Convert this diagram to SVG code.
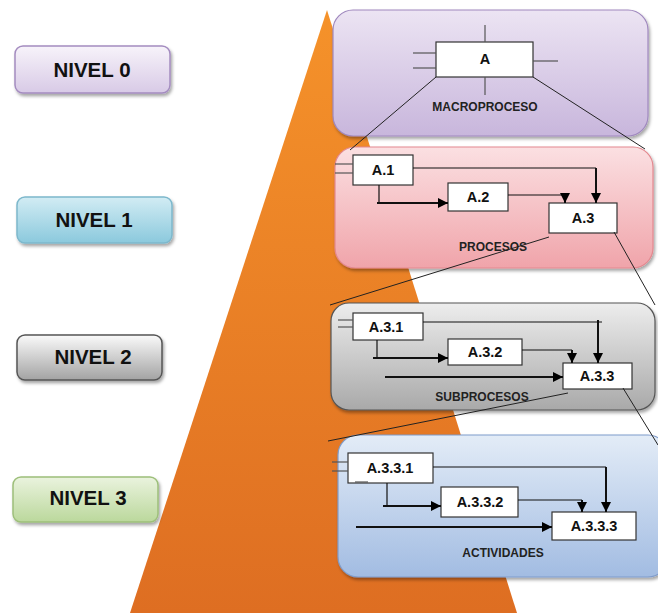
<svg xmlns="http://www.w3.org/2000/svg" width="658" height="613" viewBox="0 0 658 613">
  <defs>
    <linearGradient id="gOrange" x1="0" y1="0" x2="0" y2="1">
      <stop offset="0" stop-color="#F5922A"/>
      <stop offset="1" stop-color="#DE6E22"/>
    </linearGradient>
    <linearGradient id="gPurple" x1="0" y1="0" x2="0" y2="1">
      <stop offset="0" stop-color="#ECE4F3"/>
      <stop offset="1" stop-color="#C8B6DC"/>
    </linearGradient>
    <linearGradient id="gPink" x1="0" y1="0" x2="0" y2="1">
      <stop offset="0" stop-color="#FBE0E2"/>
      <stop offset="1" stop-color="#F0A4AA"/>
    </linearGradient>
    <linearGradient id="gGray" x1="0" y1="0" x2="0" y2="1">
      <stop offset="0" stop-color="#EDEDED"/>
      <stop offset="1" stop-color="#A9A9A9"/>
    </linearGradient>
    <linearGradient id="gBlue" x1="0" y1="0" x2="0" y2="1">
      <stop offset="0" stop-color="#E3ECF7"/>
      <stop offset="1" stop-color="#A2BCE2"/>
    </linearGradient>
    <linearGradient id="nPurple" x1="0" y1="0" x2="0" y2="1">
      <stop offset="0" stop-color="#F7F3FA"/>
      <stop offset="1" stop-color="#D8CAE6"/>
    </linearGradient>
    <linearGradient id="nBlue" x1="0" y1="0" x2="0" y2="1">
      <stop offset="0" stop-color="#D2ECF4"/>
      <stop offset="1" stop-color="#8BC9DD"/>
    </linearGradient>
    <linearGradient id="nGray" x1="0" y1="0" x2="0" y2="1">
      <stop offset="0" stop-color="#FAFAFA"/>
      <stop offset="1" stop-color="#A3A3A3"/>
    </linearGradient>
    <linearGradient id="nGreen" x1="0" y1="0" x2="0" y2="1">
      <stop offset="0" stop-color="#EAF3DE"/>
      <stop offset="1" stop-color="#BBD89C"/>
    </linearGradient>
    <filter id="shadow" x="-10%" y="-10%" width="125%" height="135%">
      <feDropShadow dx="1.5" dy="2.5" stdDeviation="1.5" flood-color="#000" flood-opacity="0.35"/>
    </filter>
    <marker id="arrow" markerUnits="userSpaceOnUse" markerWidth="10" markerHeight="10" viewBox="0 0 10 10" refX="10" refY="5" orient="auto">
      <path d="M0,0 L10,5 L0,10 z" fill="#000"/>
    </marker>
  </defs>
  <style>
    .nivel text { font-family: "Liberation Sans", Arial, sans-serif; font-weight: bold; font-size: 20.5px; fill: #111; text-anchor: middle; }
    .panel-label { font-family: "Liberation Sans", Arial, sans-serif; font-weight: bold; font-size: 12px; fill: #222; text-anchor: middle; }
    .box rect { fill: #fff; stroke: #333; stroke-width: 1.2; }
    .box text { font-family: "Liberation Sans", Arial, sans-serif; font-weight: bold; font-size: 14.5px; fill: #111; text-anchor: middle; }
    .thin { stroke: #222; stroke-width: 1; fill: none; }
    .stub { stroke: #555; stroke-width: 1.2; fill: none; }
    .flow { stroke: #111; stroke-width: 1.2; fill: none; }
    .flowb { stroke: #111; stroke-width: 2; fill: none; }
  </style>

  <!-- hierarchy pyramid -->
  <polygon id="pyramid" points="327,10 517,613 130,613" fill="url(#gOrange)"/>

  <!-- level tags -->
  <g id="nivel0" class="nivel">
    <rect x="15" y="46" width="155" height="47" rx="8" fill="url(#nPurple)" stroke="#A48CC0" stroke-width="1.5" filter="url(#shadow)"/>
    <text x="92" y="77">NIVEL 0</text>
  </g>
  <g id="nivel1" class="nivel">
    <rect x="17" y="197" width="155" height="46" rx="8" fill="url(#nBlue)" stroke="#7DB8CC" stroke-width="1.5" filter="url(#shadow)"/>
    <text x="94" y="227">NIVEL 1</text>
  </g>
  <g id="nivel2" class="nivel">
    <rect x="17" y="335" width="145" height="45" rx="8" fill="url(#nGray)" stroke="#555" stroke-width="1.5" filter="url(#shadow)"/>
    <text x="93" y="364">NIVEL 2</text>
  </g>
  <g id="nivel3" class="nivel">
    <rect x="13" y="477" width="145" height="45" rx="8" fill="url(#nGreen)" stroke="#9DBF7A" stroke-width="1.5" filter="url(#shadow)"/>
    <text x="88" y="505">NIVEL 3</text>
  </g>

  <!-- level panels -->
  <g id="panel-macroproceso">
    <rect x="333" y="10" width="315" height="126" rx="20" fill="url(#gPurple)" stroke="#9F88BE" stroke-width="1.2" filter="url(#shadow)"/>
    <text class="panel-label" x="485" y="111">MACROPROCESO</text>
  </g>
  <g id="panel-procesos">
    <rect x="335" y="147" width="318" height="121" rx="20" fill="url(#gPink)" stroke="#E3888F" stroke-width="1.2" filter="url(#shadow)"/>
    <text class="panel-label" x="493" y="251">PROCESOS</text>
  </g>
  <g id="panel-subprocesos">
    <rect x="331" y="303" width="324" height="107" rx="18" fill="url(#gGray)" stroke="#555" stroke-width="1.2" filter="url(#shadow)"/>
    <text class="panel-label" x="482" y="401">SUBPROCESOS</text>
  </g>
  <g id="panel-actividades">
    <rect x="338" y="435" width="330" height="142" rx="20" fill="url(#gBlue)" stroke="#7F9CCB" stroke-width="1.2" filter="url(#shadow)"/>
    <text class="panel-label" x="503" y="557">ACTIVIDADES</text>
  </g>

  <!-- process boxes -->
  <g id="A" class="box">
    <rect x="436" y="42" width="97" height="35"/>
    <text x="485" y="64">A</text>
  </g>
  <g id="A1" class="box">
    <rect x="353" y="155" width="60" height="30"/>
    <text x="383" y="175">A.1</text>
  </g>
  <g id="A2" class="box">
    <rect x="448" y="183" width="60" height="28"/>
    <text x="478" y="202">A.2</text>
  </g>
  <g id="A3" class="box">
    <rect x="549" y="203" width="68" height="30"/>
    <text x="583" y="223">A.3</text>
  </g>
  <g id="A31" class="box">
    <rect x="353" y="313" width="70" height="27"/>
    <text x="386" y="332">A.3.1</text>
  </g>
  <g id="A32" class="box">
    <rect x="448" y="339" width="74" height="26"/>
    <text x="485" y="357">A.3.2</text>
  </g>
  <g id="A33" class="box">
    <rect x="563" y="363" width="69" height="26"/>
    <text x="597" y="381">A.3.3</text>
  </g>
  <g id="A331" class="box">
    <rect x="348" y="453" width="85" height="30"/>
    <text x="390" y="473">A.3.3.1</text>
  </g>
  <g id="A332" class="box">
    <rect x="441" y="487" width="77" height="30"/>
    <text x="480" y="507">A.3.3.2</text>
  </g>
  <g id="A333" class="box">
    <rect x="552" y="512" width="84" height="28"/>
    <text x="594" y="531">A.3.3.3</text>
  </g>

  <!-- connectors -->
  <g id="connectors">
    <!-- A: interface stubs -->
    <line class="stub" x1="485" y1="25" x2="485" y2="42"/>
    <line class="stub" x1="485" y1="77" x2="485" y2="95"/>
    <line class="stub" x1="413" y1="53" x2="436" y2="53"/>
    <line class="stub" x1="413" y1="68" x2="436" y2="68"/>
    <line class="stub" x1="533" y1="61" x2="558" y2="61"/>

    <!-- level 1 flows -->
    <line class="stub" x1="335" y1="164" x2="353" y2="164"/>
    <line class="stub" x1="335" y1="173" x2="353" y2="173"/>
    <polyline class="flow" points="413,168 596,168"/>
    <line class="flowb" x1="596" y1="168" x2="596" y2="203" marker-end="url(#arrow)"/>
    <polyline class="flow" points="379,185 379,203"/>
    <line class="flowb" x1="377" y1="203" x2="448" y2="203" marker-end="url(#arrow)"/>
    <polyline class="flow" points="508,195 565,195"/>
    <line class="flowb" x1="565" y1="195" x2="565" y2="203" marker-end="url(#arrow)"/>

    <!-- level 2 flows -->
    <line class="stub" x1="338" y1="320" x2="353" y2="320"/>
    <line class="stub" x1="338" y1="327" x2="353" y2="327"/>
    <polyline class="flow" points="423,322 602,322"/>
    <line class="flowb" x1="598" y1="320" x2="598" y2="363" marker-end="url(#arrow)"/>
    <polyline class="flow" points="377,340 377,358"/>
    <line class="flowb" x1="373" y1="358" x2="448" y2="358" marker-end="url(#arrow)"/>
    <polyline class="flow" points="522,350 572,350"/>
    <line class="flowb" x1="572" y1="350" x2="572" y2="363" marker-end="url(#arrow)"/>
    <line class="flowb" x1="385" y1="377" x2="563" y2="377" marker-end="url(#arrow)"/>

    <!-- level 3 flows -->
    <line class="stub" x1="332" y1="462" x2="348" y2="462"/>
    <line class="stub" x1="332" y1="471" x2="348" y2="471"/>
    <line class="stub" x1="355" y1="482" x2="368" y2="482"/>
    <polyline class="flow" points="433,467 606,467"/>
    <line class="flowb" x1="606" y1="467" x2="606" y2="512" marker-end="url(#arrow)"/>
    <polyline class="flow" points="387,483 387,506"/>
    <line class="flowb" x1="383" y1="506" x2="441" y2="506" marker-end="url(#arrow)"/>
    <polyline class="flow" points="518,500 582,500"/>
    <line class="flowb" x1="582" y1="500" x2="582" y2="512" marker-end="url(#arrow)"/>
    <line class="flowb" x1="356" y1="527" x2="552" y2="527" marker-end="url(#arrow)"/>

    <!-- zoom-in guide lines between levels -->
    <line class="thin" x1="436" y1="77" x2="350" y2="150"/>
    <line class="thin" x1="533" y1="77" x2="645" y2="149"/>
    <line class="thin" x1="549" y1="237" x2="330" y2="305"/>
    <line class="thin" x1="614" y1="232" x2="655" y2="305"/>
    <line class="thin" x1="568" y1="393" x2="328" y2="441"/>
    <line class="thin" x1="623" y1="388" x2="658" y2="445"/>
  </g>
</svg>
